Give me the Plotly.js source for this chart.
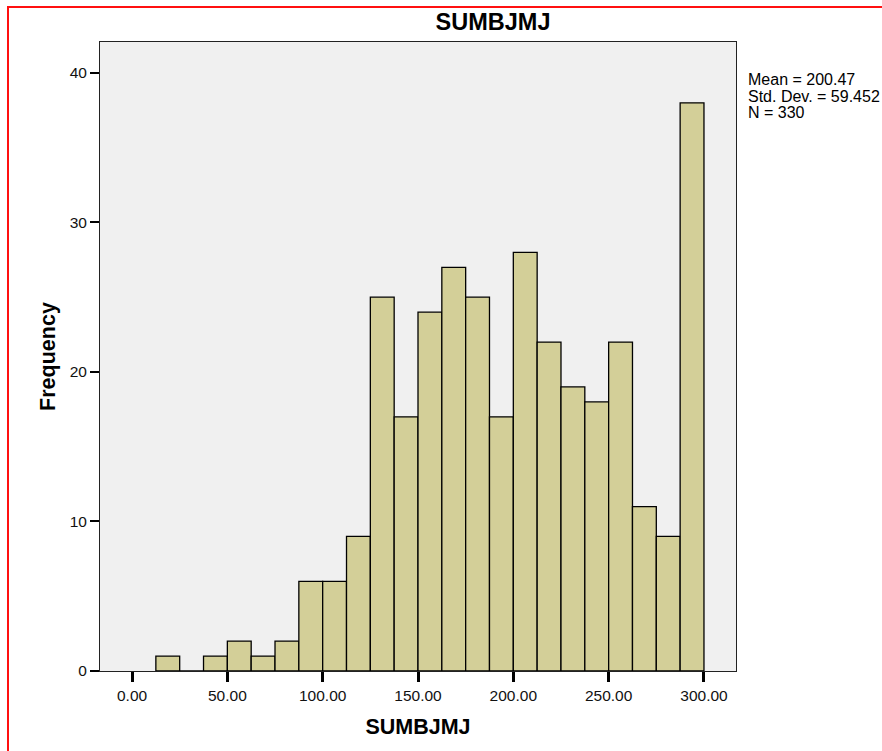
<!DOCTYPE html>
<html>
<head>
<meta charset="utf-8">
<script src="https://cdn.plot.ly/plotly-3.0.1.min.js"></script>
<style>
html,body{margin:0;padding:0;background:#fff;}
#chart{width:882px;height:751px;position:absolute;left:0;top:0;}
#frame{position:absolute;left:7px;top:6px;width:880px;height:750px;border-top:2px solid #ff1010;border-left:2px solid #ff1010;pointer-events:none;}
</style>
</head>
<body>
<div id="chart"></div>
<div id="frame"></div>
<script>
// Histogram of SUMBJMJ (bin width 12.5)
const binLefts = [12.5, 25, 37.5, 50, 62.5, 75, 87.5, 100, 112.5, 125, 137.5, 150, 162.5, 175, 187.5, 200, 212.5, 225, 237.5, 250, 262.5, 275, 287.5];
const counts   = [1, 0, 1, 2, 1, 2, 6, 6, 9, 25, 17, 24, 27, 25, 17, 28, 22, 19, 18, 22, 11, 9, 38];
const binWidth = 12.5;
const xTickVals = [0, 50, 100, 150, 200, 250, 300];
const yTickVals = [0, 10, 20, 30, 40];
const statLines = ["Mean = 200.47", "Std. Dev. = 59.452", "N = 330"];
const varName = "SUMBJMJ";

const centers = binLefts.map(v => v + binWidth / 2);
const FONT = "Arial, 'Liberation Sans', sans-serif";

const trace = {
  type: 'bar',
  x: centers,
  y: counts,
  width: binLefts.map(() => binWidth),
  marker: {color: '#d3cf98', line: {color: '#000000', width: 1.3}},
  hoverinfo: 'skip'
};

const statY = [0.9396, 0.9141, 0.8887];
const annotations = statLines.map((t, i) => ({
  text: t, xref: 'paper', yref: 'paper', x: 1.0157, y: statY[i],
  xanchor: 'left', yanchor: 'middle', showarrow: false, align: 'left',
  font: {family: FONT, size: 16, color: '#000'}
}));

const layout = {
  width: 882, height: 751,
  margin: {l: 100, r: 146, t: 42, b: 80, pad: 0},
  paper_bgcolor: '#ffffff',
  plot_bgcolor: '#f0f0f0',
  showlegend: false,
  bargap: 0,
  title: {text: '<b>' + varName + '</b>', x: 0.618, xref: 'paper', xanchor: 'center',
          y: 1, yref: 'container', yanchor: 'top', pad: {t: 14},
          font: {family: FONT, size: 23.5, color: '#000'}},
  xaxis: {
    range: [-16.8, 316.8], tickvals: xTickVals, tickformat: '.2f',
    ticks: 'outside', ticklen: 10, tickwidth: 3, tickcolor: '#000',
    showline: true, linecolor: '#222', linewidth: 1, mirror: true,
    showgrid: false, zeroline: false,
    tickfont: {family: FONT, size: 15.5, color: '#111'},
    title: {text: '<b>' + varName + '</b>', standoff: 16, font: {family: FONT, size: 21.5, color: '#000'}}
  },
  yaxis: {
    range: [0, 42.07], tickvals: yTickVals,
    ticks: 'outside', ticklen: 9, tickwidth: 2, tickcolor: '#000',
    showline: true, linecolor: '#222', linewidth: 1, mirror: true,
    showgrid: false, zeroline: false,
    tickfont: {family: FONT, size: 15.5, color: '#111'},
    title: {text: '<b>Frequency</b>', standoff: 8, font: {family: FONT, size: 21.5, color: '#000'}}
  },
  annotations: annotations
};

Plotly.newPlot('chart', [trace], layout, {displayModeBar: false, staticPlot: true});
</script>
</body>
</html>
